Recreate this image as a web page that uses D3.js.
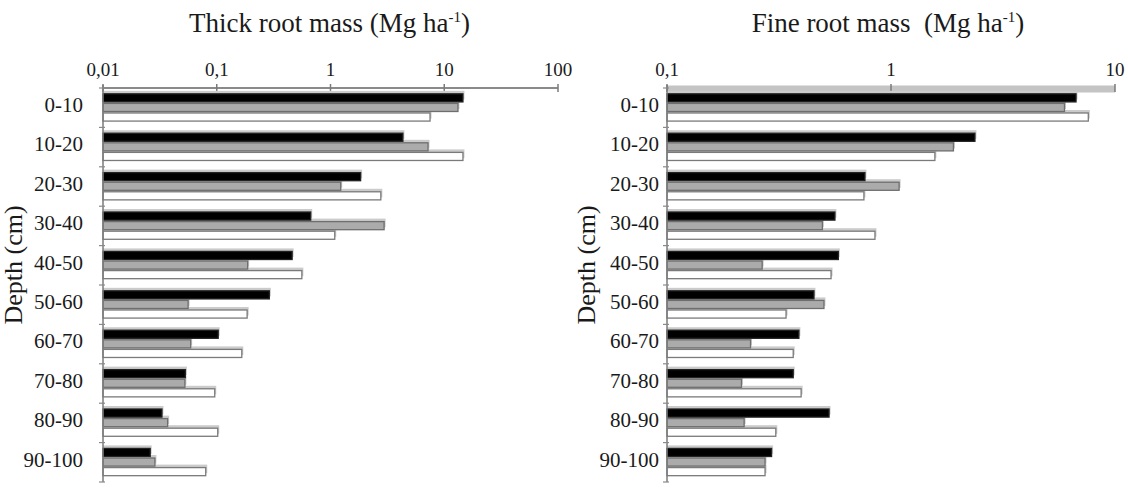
<!DOCTYPE html>
<html>
<head>
<meta charset="utf-8">
<script src="https://cdn.jsdelivr.net/npm/d3@7"></script>
<style>
  body { margin: 0; background: #fff; }
  text { font-family: "Liberation Serif", "Times New Roman", serif; fill: #1a1a1a; }
</style>
</head>
<body>
<svg width="1128" height="488"></svg>
<script>
// Depth classes (cm)
const depths = ['0-10', '10-20', '20-30', '30-40', '40-50', '50-60', '60-70', '70-80', '80-90', '90-100'];

// Thick root mass (Mg ha-1), three series per depth
const thickBlack = [14.6, 4.33, 1.84, 0.67, 0.46, 0.29, 0.103, 0.053, 0.033, 0.026];
const thickGray  = [13.2, 7.2, 1.23, 2.96, 0.187, 0.056, 0.059, 0.0525, 0.037, 0.0286];
const thickWhite = [7.5, 14.6, 2.77, 1.09, 0.56, 0.185, 0.166, 0.096, 0.102, 0.080];

// Fine root mass (Mg ha-1)
const fineBlack = [6.7, 2.37, 0.765, 0.562, 0.582, 0.453, 0.388, 0.366, 0.529, 0.293];
const fineGray  = [5.95, 1.90, 1.087, 0.494, 0.266, 0.502, 0.236, 0.215, 0.221, 0.274];
const fineWhite = [7.6, 1.57, 0.757, 0.848, 0.54, 0.34, 0.366, 0.397, 0.306, 0.274];

// Axis ticks
const thickTicks = [0.01, 0.1, 1, 10, 100];
const thickTickLabels = ['0,01', '0,1', '1', '10', '100'];
const fineTicks = [0.1, 1, 10];
const fineTickLabels = ['0,1', '1', '10'];

const svg = d3.select('svg');

const fills   = ['#000', '#ababab', '#fff'];
const strokes = ['#222', '#6e6e6e', '#7a7a7a'];

const y = d3.scaleBand()
    .domain(depths)
    .range([88, 482])
    .paddingInner(0.27)
    .paddingOuter(0.135);

const ySub = d3.scaleBand()
    .domain([0, 1, 2])
    .range([0, y.bandwidth()]);

function drawPanel(opt) {
  const g = svg.append('g');

  const x = d3.scaleLog()
      .domain(opt.domain)
      .range(opt.range);

  const x0 = opt.range[0];
  const top = y.range()[0];
  const bottom = y.range()[1];

  // Title
  const t = g.append('text')
      .attr('x', d3.mean(opt.range) + opt.titleShift)
      .attr('y', 32)
      .attr('text-anchor', 'middle')
      .style('font-size', '27px')
      .text(opt.title);
  t.append('tspan').attr('dy', -10).style('font-size', '15px').text('-1');
  t.append('tspan').attr('dy', 10).text(')');

  // Top axis line
  g.append('line')
      .attr('x1', x0).attr('x2', opt.range[1])
      .attr('y1', top).attr('y2', top)
      .attr('stroke', opt.axisBand ? '#c4c4c4' : '#8a8a8a')
      .attr('stroke-width', opt.axisBand ? 7 : 2)
      .attr('transform', opt.axisBand ? 'translate(0,1)' : null);

  g.selectAll('.xtick').data(opt.ticks)
    .join('line')
      .attr('x1', d => x(d)).attr('x2', d => x(d))
      .attr('y1', top - 4).attr('y2', top + 4)
      .attr('stroke', '#7a7a7a')
      .attr('stroke-width', 1.5);

  g.selectAll('.xlabel').data(opt.ticks)
    .join('text')
      .attr('x', d => x(d))
      .attr('y', 76)
      .attr('text-anchor', 'middle')
      .style('font-size', '19px')
      .text((d, i) => opt.tickLabels[i]);

  // Bars: shadows first, then the bars
  const rows = depths.map((d, i) => ({
    depth: d,
    vals: [opt.series[0][i], opt.series[1][i], opt.series[2][i]]
  }));

  const groups = g.selectAll('.grp').data(rows)
    .join('g')
      .attr('transform', d => `translate(0,${y(d.depth)})`);

  groups.selectAll('.shadow').data(d => d.vals)
    .join('rect')
      .attr('x', x0)
      .attr('y', (d, i) => ySub(i) - 2.5)
      .attr('width', d => x(d) - x0 + 1.5)
      .attr('height', ySub.bandwidth() - 1)
      .attr('fill', '#cbcbcb');

  groups.selectAll('.bar').data(d => d.vals)
    .join('rect')
      .attr('x', x0)
      .attr('y', (d, i) => ySub(i) + 0.5)
      .attr('width', d => x(d) - x0)
      .attr('height', ySub.bandwidth() - 1.5)
      .attr('fill', (d, i) => fills[i])
      .attr('stroke', (d, i) => strokes[i])
      .attr('stroke-width', 1.3);

  // Left axis
  g.append('line')
      .attr('x1', x0).attr('x2', x0)
      .attr('y1', top - 3).attr('y2', bottom)
      .attr('stroke', '#7a7a7a')
      .attr('stroke-width', 1.5);

  const bounds = d3.range(depths.length + 1).map(i => top + i * y.step());
  g.selectAll('.ytick').data(bounds)
    .join('line')
      .attr('x1', x0 - 4).attr('x2', x0 + 2)
      .attr('y1', d => d).attr('y2', d => d)
      .attr('stroke', '#8a8a8a')
      .attr('stroke-width', 1.2);

  g.selectAll('.ylabel').data(depths)
    .join('text')
      .attr('x', opt.labelX)
      .attr('y', d => y(d) + y.bandwidth() / 2 - 3)
      .attr('dy', '0.35em')
      .attr('text-anchor', 'end')
      .style('font-size', '21px')
      .text(d => d);

  // Depth label
  g.append('text')
      .attr('transform', `translate(${opt.depthX},${(top + bottom) / 2 - 20}) rotate(-90)`)
      .attr('text-anchor', 'middle')
      .style('font-size', '26px')
      .text('Depth (cm)');
}

drawPanel({
  domain: [0.01, 100],
  range: [103, 558],
  ticks: thickTicks,
  tickLabels: thickTickLabels,
  series: [thickBlack, thickGray, thickWhite],
  title: 'Thick root mass (Mg ha',
  titleShift: -1,
  labelX: 83,
  depthX: 22,
  axisBand: false
});

drawPanel({
  domain: [0.1, 10],
  range: [667, 1115],
  ticks: fineTicks,
  tickLabels: fineTickLabels,
  series: [fineBlack, fineGray, fineWhite],
  title: 'Fine root mass\u00a0 (Mg ha',
  titleShift: -3,
  labelX: 659,
  depthX: 595,
  axisBand: true
});
</script>
</body>
</html>
